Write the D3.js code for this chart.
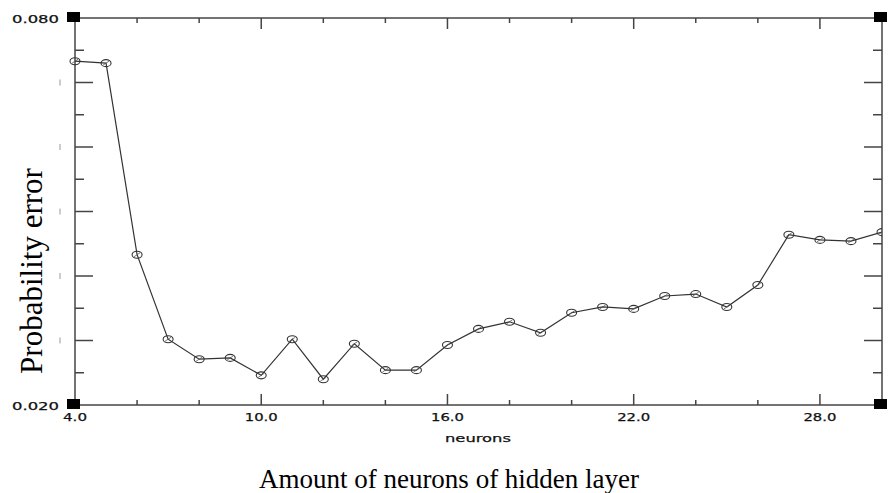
<!DOCTYPE html>
<html lang="en">
<head>
    <meta charset="UTF-8">
    <title></title>
    <style>
        body { margin: 0; background: #fff; }
        .small { font-family: "DejaVu Sans", sans-serif; font-size: 11px; fill: #111; stroke: #111; stroke-width: 0.25px; }
        .serif { font-family: "Liberation Serif", "Times New Roman", serif; fill: #000; }
    </style>
</head>
<body>
<svg id="chart"></svg>
<script src="https://cdnjs.cloudflare.com/ajax/libs/d3/7.8.5/d3.min.js"></script>
<script>
    // neurons in hidden layer vs. probability error
    var neurons = [4, 5, 6, 7, 8, 9, 10, 11, 12, 13, 14, 15, 16, 17, 18, 19, 20, 21, 22, 23, 24, 25, 26, 27, 28, 29, 30];
    var errors = [0.0733, 0.0730, 0.0433, 0.0302, 0.0271, 0.0273, 0.0246, 0.0302, 0.0240, 0.0295, 0.0254, 0.0254, 0.0293,
                  0.0318, 0.0329, 0.0312, 0.0343, 0.0352, 0.0349, 0.0369, 0.0372, 0.0352, 0.0386, 0.0464, 0.0456, 0.0454, 0.0468];
    var xTickLabels = ["4.0", "10.0", "16.0", "22.0", "28.0"];
    var yTickLabels = ["0.020", "0.080"];

    window.onload = function() {
        var width = 888, height = 493;
        var pLeft = 75, pRight = 882, pTop = 18, pBottom = 405;

        var svg = d3.select("#chart").attr("width", width).attr("height", height);

        var x = d3.scaleLinear().domain([4, 30]).range([pLeft, pRight]);
        var y = d3.scaleLinear().domain([0.02, 0.08]).range([pBottom, pTop]);

        var axisColor = "#444";

        // frame
        var frame = svg.append("g").attr("stroke", axisColor).attr("stroke-width", 1.5);
        frame.append("line").attr("x1", pLeft).attr("x2", pLeft).attr("y1", pTop).attr("y2", pBottom);
        frame.append("line").attr("x1", pRight).attr("x2", pRight).attr("y1", pTop).attr("y2", pBottom);
        frame.append("line").attr("x1", pLeft).attr("x2", pRight).attr("y1", pBottom).attr("y2", pBottom);
        frame.append("line").attr("x1", pLeft).attr("x2", pRight).attr("y1", pTop).attr("y2", pTop);

        // x ticks every 2, long every 6 (inward, bottom and top)
        var xTicks = d3.range(6, 30, 2);
        var ticks = svg.append("g").attr("stroke", axisColor).attr("stroke-width", 1.5);
        xTicks.forEach(function(t) {
            var len = ((t - 4) % 6 === 0) ? 11 : 5;
            ticks.append("line").attr("x1", x(t)).attr("x2", x(t)).attr("y1", pBottom).attr("y2", pBottom - len);
            ticks.append("line").attr("x1", x(t)).attr("x2", x(t)).attr("y1", pTop).attr("y2", pTop + len);
        });

        // y ticks every 0.005, long every 0.01 (inward, left and right)
        var yTicks = d3.range(1, 12).map(function(i) { return 0.02 + i * 0.005; });
        yTicks.forEach(function(t, i) {
            var isLong = (i % 2 === 1);
            var len = isLong ? 18 : 9;
            ticks.append("line").attr("x1", pLeft).attr("x2", pLeft + len).attr("y1", y(t)).attr("y2", y(t));
            ticks.append("line").attr("x1", pRight).attr("x2", pRight - len).attr("y1", y(t)).attr("y2", y(t));
            if (isLong) {
                svg.append("line").attr("x1", 60).attr("x2", 60).attr("y1", y(t) - 3).attr("y2", y(t) + 3)
                    .attr("stroke", "#999").attr("stroke-width", 1);
            }
        });

        // black corner squares
        [[pLeft, pTop], [pRight, pTop], [pLeft, pBottom], [pRight, pBottom]].forEach(function(c) {
            svg.append("rect").attr("x", c[0] - 8).attr("y", c[1] - 6).attr("width", 13).attr("height", 10).attr("fill", "#000");
        });

        // tick labels
        svg.selectAll(".xlab").data(xTickLabels).enter().append("text")
            .attr("class", "small")
            .attr("x", function(d) { return x(+d); })
            .attr("y", 421)
            .attr("text-anchor", "middle")
            .attr("textLength", function(d) { return d.length === 3 ? 24 : 33; })
            .attr("lengthAdjust", "spacingAndGlyphs")
            .text(function(d) { return d; });

        svg.selectAll(".ylab").data(yTickLabels).enter().append("text")
            .attr("class", "small")
            .attr("x", 12)
            .attr("y", function(d) { return y(+d) + 5; })
            .attr("textLength", 47)
            .attr("lengthAdjust", "spacingAndGlyphs")
            .text(function(d) { return d; });

        svg.append("text").attr("class", "small")
            .attr("x", 478).attr("y", 442).attr("text-anchor", "middle")
            .attr("textLength", 66).attr("lengthAdjust", "spacingAndGlyphs")
            .text("neurons");

        // axis titles
        svg.append("text").attr("class", "serif")
            .attr("x", 449).attr("y", 488).attr("text-anchor", "middle")
            .style("font-size", "27px")
            .text("Amount of neurons of hidden layer");

        svg.append("text").attr("class", "serif")
            .attr("transform", "translate(42,271) rotate(-90)")
            .attr("text-anchor", "middle")
            .style("font-size", "31px")
            .text("Probability error");

        // data line + markers, clipped to the plot
        svg.append("clipPath").attr("id", "plotclip").append("rect")
            .attr("x", pLeft - 6).attr("y", pTop).attr("width", pRight - pLeft + 6).attr("height", pBottom - pTop);

        var pts = neurons.map(function(n, i) { return [n, errors[i]]; });
        var plot = svg.append("g").attr("clip-path", "url(#plotclip)");

        plot.append("path")
            .datum(pts)
            .attr("fill", "none")
            .attr("stroke", "#333")
            .attr("stroke-width", 1.2)
            .attr("d", d3.line().x(function(d) { return x(d[0]); }).y(function(d) { return y(d[1]); }));

        plot.selectAll("ellipse").data(pts).enter().append("ellipse")
            .attr("cx", function(d) { return x(d[0]); })
            .attr("cy", function(d) { return y(d[1]); })
            .attr("rx", 5).attr("ry", 3.5)
            .attr("fill", "none")
            .attr("stroke", "#333")
            .attr("stroke-width", 1.1);

        plot.selectAll(".slash").data(pts).enter().append("line")
            .attr("x1", function(d) { return x(d[0]) - 3; })
            .attr("y1", function(d) { return y(d[1]) + 2; })
            .attr("x2", function(d) { return x(d[0]) + 3; })
            .attr("y2", function(d) { return y(d[1]) - 2; })
            .attr("stroke", "#555")
            .attr("stroke-width", 0.8);
    };
</script>
</body>
</html>
